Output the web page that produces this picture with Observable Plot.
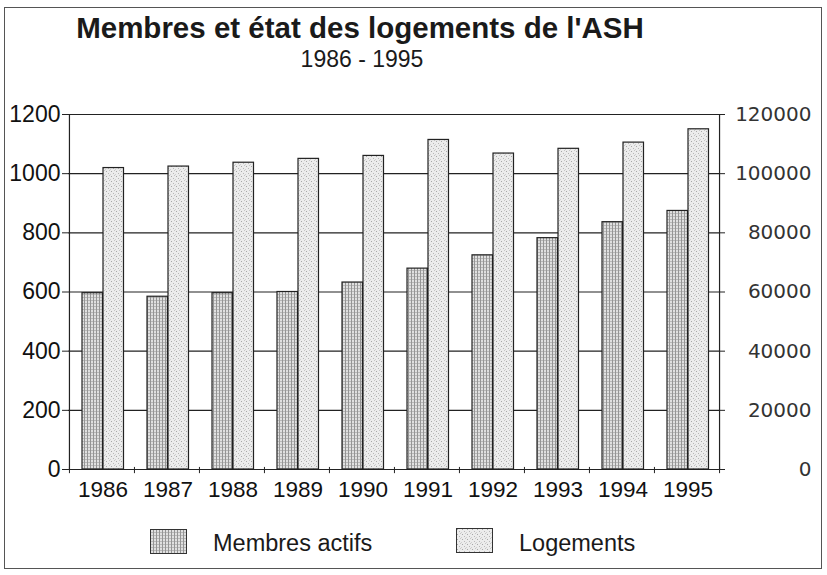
<!DOCTYPE html>
<html>
<head>
<meta charset="utf-8">
<script src="https://cdn.jsdelivr.net/npm/d3@7"></script>
<script src="https://cdn.jsdelivr.net/npm/@observablehq/plot@0.6"></script>
<style>
  html, body { margin: 0; padding: 0; background: #fff; }
  #wrap { position: relative; width: 827px; height: 575px; overflow: hidden; font-family: "Liberation Sans", Arial, sans-serif; color: #111; }
  #border { position: absolute; left: 4px; top: 7px; width: 818px; height: 562px; border: 1px solid #555; box-sizing: border-box; }
  #chart { position: absolute; left: 0; top: 0; }
  .t { position: absolute; white-space: nowrap; }
  #title { left: 0; width: 720px; text-align: center; top: 11px; font-size: 29.5px; font-weight: bold; color: #1a1a1a; }
  #subtitle { left: 0; width: 724px; text-align: center; top: 46px; font-size: 23px; color: #1a1a1a; }
  .sw { position: absolute; width: 37px; height: 25px; }
  .lt { position: absolute; font-size: 23.5px; color: #1a1a1a; }
</style>
</head>
<body>
<div id="wrap">
  <div id="border"></div>
  <div id="chart"></div>
  <div class="t" id="title">Membres et état des logements de l'ASH</div>
  <div class="t" id="subtitle">1986 - 1995</div>
  <svg class="sw" style="left:150px;top:529px" width="37" height="25"><rect x="0.5" y="0.5" width="36" height="24" fill="url(#pM)" stroke="#333"/></svg>
  <div class="lt" id="l1" style="left:213px;top:530px">Membres actifs</div>
  <svg class="sw" style="left:456px;top:528px" width="37" height="25"><rect x="0.5" y="0.5" width="36" height="24" fill="url(#pL)" stroke="#333"/></svg>
  <div class="lt" id="l2" style="left:519px;top:530px">Logements</div>
</div>
<script>
// ---- data ----
const years = ["1986","1987","1988","1989","1990","1991","1992","1993","1994","1995"];
const membres = [596, 584, 596, 600, 632, 679, 724, 782, 836, 874];
const logements = [101900, 102400, 103700, 105000, 106000, 111400, 106800, 108400, 110500, 115000];
const leftTicks = [0, 200, 400, 600, 800, 1000, 1200];
const rightTicks = [0, 20000, 40000, 60000, 80000, 100000, 120000];
const rightFactor = 100; // right axis value = left axis value * 100

const rows = years.map((y, i) => ({year: y, membres: membres[i], logements: logements[i]}));

const W = 827, H = 575;
const mL = 68, mR = 108, mT = 114, mB = 106;
const bw = (W - mL - mR) / years.length;

const svg = Plot.plot({
  width: W,
  height: H,
  marginLeft: mL,
  marginRight: mR,
  marginTop: mT,
  marginBottom: mB,
  style: {fontFamily: "'Liberation Sans', Arial, sans-serif", color: "#111", background: "transparent", overflow: "visible"},
  x: {type: "band", domain: years, padding: 0, axis: null},
  y: {domain: [0, 1200], axis: null},
  marks: [
    Plot.gridY(leftTicks, {stroke: "#222", strokeOpacity: 1, strokeWidth: 1.1}),
    // vertical axis lines (left & right edges of the band range)
    Plot.ruleX([years[0]], {x: d => d, dx: -bw / 2, stroke: "#222", strokeWidth: 1.2}),
    Plot.ruleX([years[years.length - 1]], {x: d => d, dx: bw / 2, stroke: "#222", strokeWidth: 1.2}),
    // category boundary ticks
    Plot.ruleX(years, {x: d => d, dx: -bw / 2, y1: 7, y2: -14, stroke: "#222"}),
    Plot.ruleX([years[years.length - 1]], {x: d => d, dx: bw / 2, y1: 7, y2: -14, stroke: "#222"}),
    Plot.barY(rows, {x: "year", y: "membres", insetLeft: 13, insetRight: 31.5, fill: "url(#pM)", stroke: "#222", strokeWidth: 1.2}),
    Plot.barY(rows, {x: "year", y: d => d.logements / rightFactor, insetLeft: 34, insetRight: 10.5, fill: "url(#pL)", stroke: "#222", strokeWidth: 1.2}),
    Plot.axisY(leftTicks, {anchor: "left", tickSize: 6, tickPadding: 2, fontSize: 23, label: null, stroke: "#222", tickFormat: d => String(d)}),
    Plot.axisY(rightTicks.map(v => v / rightFactor), {anchor: "right", tickSize: 5, tickPadding: 87, fontSize: 20, label: null,
      tickFormat: d => String(d * rightFactor), textAnchor: "end", fill: "#333",
      fontFamily: "'DejaVu Sans', Verdana, sans-serif", letterSpacing: "0.8px", stroke: "#222"}),
    Plot.axisX(years, {anchor: "bottom", tickSize: 0, tickPadding: 12, fontSize: 22.5, label: null, dx: 1})
  ]
});

// patterns for the bar textures
const ns = "http://www.w3.org/2000/svg";
const defs = document.createElementNS(ns, "defs");
defs.innerHTML = `
  <pattern id="pM" patternUnits="userSpaceOnUse" width="3" height="3">
    <rect width="3" height="3" fill="#e0e0e0"/>
    <rect x="0" y="0" width="1" height="3" fill="#959595"/>
    <rect x="1" y="0" width="2" height="1" fill="#b8b8b8"/>
  </pattern>
  <pattern id="pL" patternUnits="userSpaceOnUse" width="5" height="5">
    <rect width="5" height="5" fill="#ececec"/>
    <rect x="1" y="1" width="1" height="1" fill="#a8a8a8"/>
    <rect x="3" y="3" width="1" height="1" fill="#b8b8b8"/>
    <rect x="4" y="0" width="1" height="1" fill="#c6c6c6"/>
    <rect x="0" y="4" width="1" height="1" fill="#cfcfcf"/>
  </pattern>`;
svg.insertBefore(defs, svg.firstChild);
document.getElementById("chart").appendChild(svg);
</script>
</body>
</html>
